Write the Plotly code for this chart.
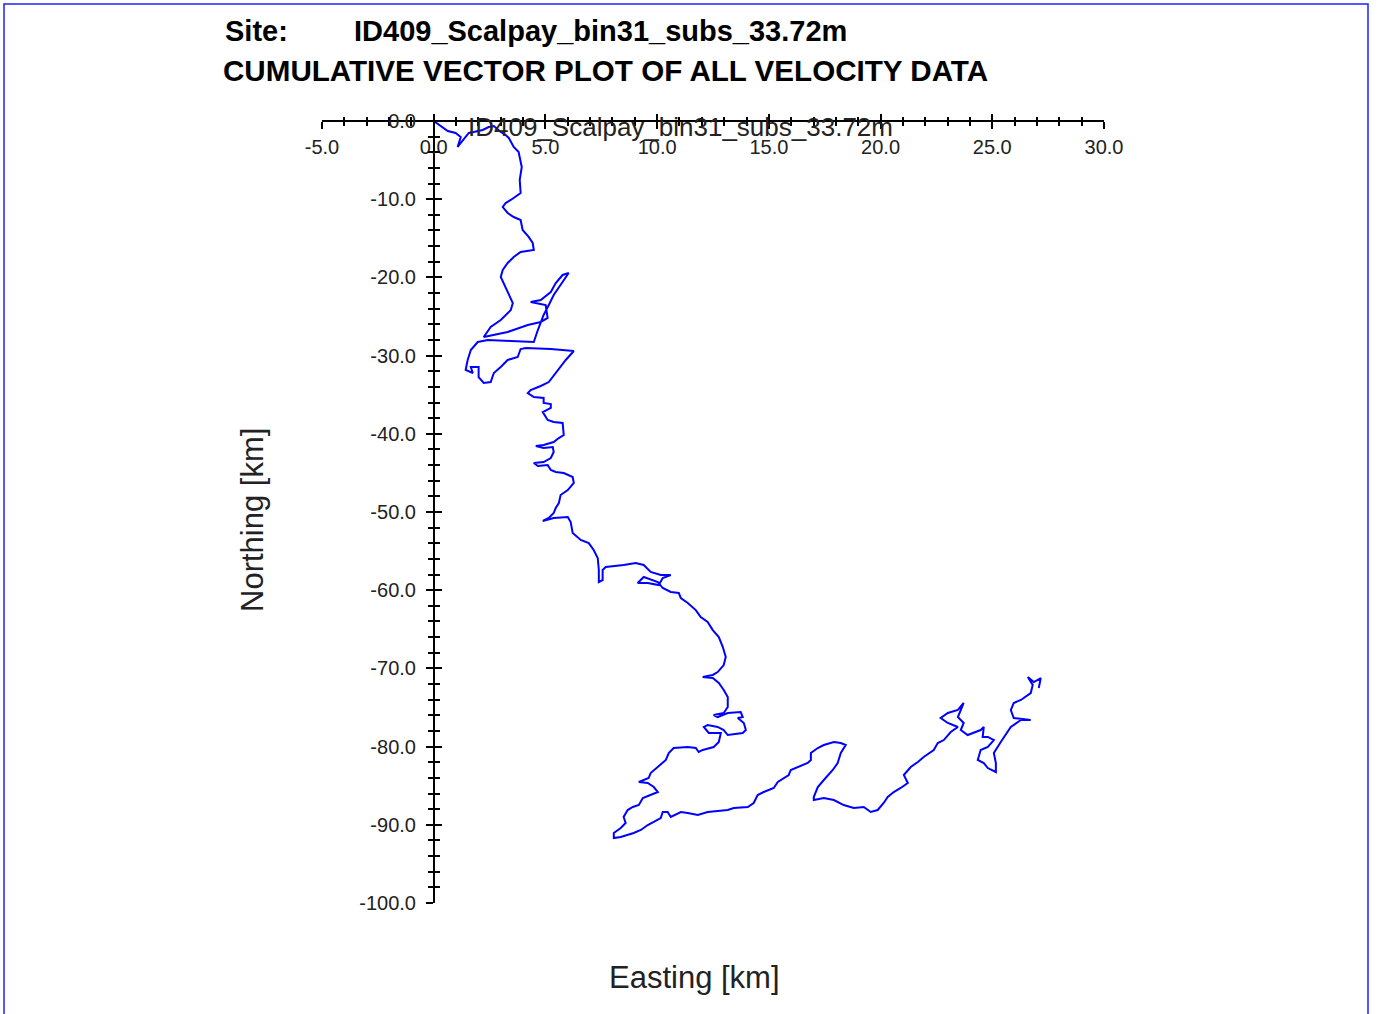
import plotly.graph_objects as go

# ---- Data: cumulative displacement (km) ----
east_a = [0.00, 0.31, 0.63, 0.98, 1.21, 1.07, 1.34, 1.57, 1.79, 2.19, 2.46, 2.69, 3.00, 3.22, 3.36, 3.58, 3.80, 3.89, 3.94, 3.85,
          3.89, 3.45, 3.22, 3.09, 3.31, 3.58, 3.89, 3.98, 4.25, 4.43, 4.48, 3.89, 3.58, 3.31, 3.09, 3.00, 3.13, 3.31, 3.54, 3.45,
          3.00, 2.55, 2.24]
north_a = [0.00, -0.64, -1.28, -1.53, -2.05, -3.32, -2.43, -1.53, -1.41, -1.15, -0.77, -0.64, -1.41, -1.79, -2.17, -3.32, -3.96,
           -4.99, -5.88, -7.54, -9.21, -10.10, -10.49, -11.00, -11.76, -12.28, -12.66, -13.94, -14.83, -15.60, -16.50, -16.75,
           -17.39, -18.16, -19.05, -19.95, -20.72, -21.99, -23.27, -24.17, -25.45, -26.34, -27.62]

east_b = [3.31, 4.21, 4.79, 5.10, 5.01, 4.34, 4.79, 5.24, 5.46, 5.77, 6.04, 5.77, 5.37, 5.15, 4.92, 4.66, 4.48, 3.45, 2.42, 1.97,
          1.66, 1.52, 1.43, 1.75, 1.66, 2.01, 2.01, 2.24, 2.55, 2.69, 3.00, 3.31, 3.76, 3.89, 4.12, 5.24, 6.27, 5.91, 5.51, 5.15]
north_b = [-26.98, -26.09, -25.70, -25.19, -23.53, -23.15, -22.89, -21.87, -20.72, -19.69, -19.44, -20.59, -22.25, -23.53,
           -24.81, -26.73, -28.26, -28.13, -28.01, -28.26, -29.28, -30.56, -31.84, -32.23, -31.46, -31.46, -32.74, -33.50,
           -33.38, -32.23, -31.46, -30.56, -30.18, -29.16, -29.03, -29.16, -29.41, -30.56, -32.10, -33.38]

east_c = [4.79, 4.34, 4.21, 4.48, 4.92, 4.92, 5.24, 5.24, 4.88, 5.01, 5.10, 5.37, 5.77, 5.82, 5.60, 5.37, 4.92, 4.57, 4.92, 5.33,
          5.37, 5.24, 4.92, 4.48, 4.66, 5.10, 5.24, 5.46, 5.82, 6.22, 6.27, 6.00, 5.68, 5.60, 5.46, 5.37, 5.15, 4.88, 5.37, 6.00,
          6.13, 6.22, 6.58, 6.94, 7.16, 7.34, 7.39, 7.39]
north_c = [-33.89, -34.40, -34.78, -35.30, -35.42, -36.06, -36.19, -36.70, -37.22, -37.73, -38.24, -38.50, -38.62, -40.16,
           -40.54, -41.05, -41.44, -41.56, -41.82, -41.69, -42.33, -43.10, -43.61, -43.74, -44.12, -43.99, -44.63, -44.88,
           -45.01, -45.52, -46.29, -47.19, -47.83, -48.85, -49.49, -50.13, -50.77, -51.15, -50.77, -50.64, -51.28, -52.69,
           -53.58, -53.97, -54.86, -55.88, -57.42, -58.95]

east_d = [7.56, 7.56, 7.70, 8.50, 9.04, 9.40, 9.71, 10.16, 10.61, 10.25, 10.07, 9.58, 9.13, 9.40, 10.03, 10.25, 10.61, 10.97,
          11.06, 11.37, 11.73, 11.95, 12.26, 12.49, 12.76, 12.94, 13.07, 12.98, 12.71, 12.49, 12.04, 12.49, 12.76, 12.98, 13.16,
          13.16, 12.98, 12.53, 12.71, 13.16, 13.52, 13.74, 13.83, 13.61, 13.88, 13.97, 13.83]
north_d = [-58.70, -57.42, -57.03, -56.78, -56.52, -56.78, -57.67, -58.06, -58.06, -58.44, -59.34, -59.08, -59.08, -58.31,
           -58.95, -59.72, -60.23, -60.36, -61.00, -61.64, -62.54, -63.43, -64.07, -65.10, -65.99, -67.27, -68.55, -69.57,
           -70.47, -70.84, -71.10, -71.23, -71.87, -72.76, -73.66, -74.94, -75.70, -75.96, -76.22, -75.70, -75.58, -75.58,
           -76.22, -76.34, -76.98, -77.88, -78.26]

east_e = [13.16, 12.98, 12.71, 12.26, 12.09, 12.31, 12.85, 12.76, 12.53, 12.04, 11.86, 11.73, 11.37, 10.74, 10.52, 10.39,
          10.03, 9.71, 9.62, 9.18, 9.58, 9.85, 10.03, 9.71, 9.36, 9.18, 8.91, 8.68, 8.50, 8.59, 8.37, 8.06, 8.06, 8.37, 8.95,
          9.27, 9.58, 9.85, 10.16, 10.25, 10.47, 10.61, 11.06, 11.37, 11.82, 12.26, 13.16, 13.43, 14.06, 14.32, 14.50, 14.77,
          15.22, 15.40, 15.67, 15.89, 15.98, 16.29, 16.74, 16.88]
north_e = [-78.52, -77.88, -77.49, -77.24, -77.49, -78.26, -78.26, -79.41, -80.05, -80.43, -80.69, -80.18, -80.05, -80.18,
           -80.82, -81.71, -82.61, -83.38, -84.02, -84.53, -84.65, -85.17, -85.81, -86.19, -86.57, -87.47, -87.72, -88.11,
           -89.00, -89.77, -90.41, -91.05, -91.69, -91.56, -91.05, -90.66, -90.03, -89.64, -89.13, -88.36, -88.36, -89.00,
           -88.36, -88.49, -88.75, -88.36, -88.11, -87.85, -87.72, -87.21, -86.19, -85.81, -85.29, -84.53, -84.02, -83.63,
           -82.99, -82.61, -82.10, -81.71]

east_f = [16.88, 17.19, 17.46, 17.91, 18.22, 18.44, 18.22, 18.08, 17.86, 17.46, 17.19, 17.01, 17.01, 17.46, 17.91, 18.35,
          18.80, 19.25, 19.56, 19.87, 20.14, 20.32, 20.59, 20.90, 21.22, 21.04, 21.35, 21.67, 21.93, 22.38, 22.56, 22.83,
          23.14, 23.46, 23.01, 22.69, 23.01, 23.46, 23.72, 23.59, 23.46, 23.72, 23.59, 23.90, 24.17, 24.48, 24.62, 24.57,
          24.80, 25.07, 24.80, 24.48, 24.35, 24.62, 24.80, 25.16, 25.16, 25.07, 25.38, 25.60, 25.83, 26.28, 26.72, 25.96,
          25.83, 25.96, 26.28, 26.72, 26.81, 26.59, 26.86, 27.17, 27.08]
north_f = [-80.82, -80.18, -79.80, -79.41, -79.54, -79.80, -80.82, -82.10, -82.99, -84.27, -85.17, -86.45, -86.83, -86.57,
           -86.83, -87.47, -87.85, -87.72, -88.36, -88.11, -87.21, -86.45, -85.81, -85.29, -84.65, -83.63, -82.61, -81.97,
           -81.33, -80.43, -79.54, -79.16, -78.13, -77.49, -76.98, -76.34, -75.70, -75.32, -74.42, -75.32, -76.22, -76.98,
           -77.88, -78.52, -78.26, -77.88, -77.49, -78.77, -78.77, -79.16, -80.05, -80.43, -81.71, -82.10, -82.74, -83.25,
           -82.10, -80.82, -79.41, -78.52, -77.49, -76.60, -76.60, -76.34, -75.32, -74.42, -74.04, -73.15, -72.12, -71.10,
           -71.74, -71.23, -72.51]

x_tick_vals = [-5, 0, 5, 10, 15, 20, 25, 30]
x_tick_labels = ["-5.0", "0.0", "5.0", "10.0", "15.0", "20.0", "25.0", "30.0"]
y_tick_vals = [0, -10, -20, -30, -40, -50, -60, -70, -80, -90, -100]
y_tick_labels = ["0.0", "-10.0", "-20.0", "-30.0", "-40.0", "-50.0", "-60.0", "-70.0", "-80.0", "-90.0", "-100.0"]

site_name = "ID409_Scalpay_bin31_subs_33.72m"
title_line2 = "CUMULATIVE VECTOR PLOT OF ALL VELOCITY DATA"

east = east_a + east_b + east_c + east_d + east_e + east_f
north = north_a + north_b + north_c + north_d + north_e + north_f
assert len(east) == len(north)

W, H = 1378, 1014
L, R, T, B = 322, 1104, 121, 903  # plot area pixel box
PW, PH = R - L, B - T


def px(xp):
    return (xp - L) / PW


def py(yp):
    return (B - yp) / PH


FONT = "Liberation Sans, Arial, sans-serif"
TXT = "#222222"
x_range = [x_tick_vals[0], x_tick_vals[-1]]
y_range = [y_tick_vals[-1], y_tick_vals[0]]
y_axis_pos = (0 - x_range[0]) / (x_range[1] - x_range[0])

fig = go.Figure()
fig.add_trace(go.Scatter(x=east, y=north, mode="lines", line=dict(color="#0000FF", width=2),
                         showlegend=False, hoverinfo="skip", xaxis="x", yaxis="y"))
fig.add_trace(go.Scatter(x=[], y=[], mode="lines", showlegend=False, hoverinfo="skip",
                         xaxis="x2", yaxis="y2"))

axis_common = dict(showgrid=False, zeroline=False, tickcolor="black", tickwidth=1.5,
                   tickfont=dict(family=FONT, size=20, color=TXT))

fig.update_layout(
    width=W, height=H, autosize=False,
    margin=dict(l=L, r=W - R, t=T, b=H - B, pad=0),
    paper_bgcolor="white", plot_bgcolor="white",
    showlegend=False,
    xaxis=dict(domain=[0, 1], range=x_range, anchor="free", position=1, side="bottom",
               showline=True, linecolor="black", linewidth=1.5,
               ticks="outside", ticklen=7, tickmode="array", tickvals=x_tick_vals, ticktext=x_tick_labels,
               ticklabelstandoff=1,
               minor=dict(ticks="outside", ticklen=4, dtick=1, tick0=0, tickcolor="black", tickwidth=1.5),
               **axis_common),
    yaxis=dict(domain=[0, 1], range=y_range, anchor="free", position=y_axis_pos, side="left",
               showline=True, linecolor="black", linewidth=1.5,
               ticks="outside", ticklen=7, tickmode="array", tickvals=y_tick_vals, ticktext=y_tick_labels,
               ticklabelstandoff=6,
               minor=dict(ticks="outside", ticklen=5, dtick=2, tick0=0, tickcolor="black", tickwidth=1.5),
               **axis_common),
    xaxis2=dict(overlaying="x", range=x_range, anchor="free", position=1, side="bottom",
                showline=False, showticklabels=False,
                ticks="inside", ticklen=7, tickmode="array", tickvals=x_tick_vals,
                minor=dict(ticks="inside", ticklen=4, dtick=1, tick0=0, tickcolor="black", tickwidth=1.5),
                **axis_common),
    yaxis2=dict(overlaying="y", range=y_range, anchor="free", position=y_axis_pos, side="left",
                showline=False, showticklabels=False,
                ticks="inside", ticklen=7, tickmode="array", tickvals=y_tick_vals,
                minor=dict(ticks="inside", ticklen=5, dtick=2, tick0=0, tickcolor="black", tickwidth=1.5),
                **axis_common),
)

ann = []
ann.append(dict(text="<b>Site:</b>", x=px(223), y=py(31), xref="paper", yref="paper",
                xanchor="left", yanchor="middle", showarrow=False,
                font=dict(family=FONT, size=29, color="black")))
ann.append(dict(text="<b>" + site_name + "</b>", x=px(352), y=py(31), xref="paper", yref="paper",
                xanchor="left", yanchor="middle", showarrow=False,
                font=dict(family=FONT, size=29, color="black")))
ann.append(dict(text="<b>" + title_line2 + "</b>", x=px(221), y=py(71), xref="paper", yref="paper",
                xanchor="left", yanchor="middle", showarrow=False,
                font=dict(family=FONT, size=29.6, color="black")))
ann.append(dict(text=site_name, x=px(680), y=py(127), xref="paper", yref="paper",
                xanchor="center", yanchor="middle", showarrow=False,
                font=dict(family=FONT, size=26, color=TXT)))
ann.append(dict(text="Northing [km]", x=px(252), y=py(520), xref="paper", yref="paper",
                xanchor="center", yanchor="middle", showarrow=False, textangle=-90,
                font=dict(family=FONT, size=31, color=TXT)))
ann.append(dict(text="Easting [km]", x=px(694), y=py(977), xref="paper", yref="paper",
                xanchor="center", yanchor="middle", showarrow=False,
                font=dict(family=FONT, size=31, color=TXT)))
fig.update_layout(annotations=ann)

fig.add_shape(type="rect", xref="paper", yref="paper",
              x0=px(4), x1=px(1368), y0=py(1030), y1=py(4),
              line=dict(color="#2020FF", width=1.5), fillcolor="rgba(0,0,0,0)", layer="above")

fig.write_html("out.html")
